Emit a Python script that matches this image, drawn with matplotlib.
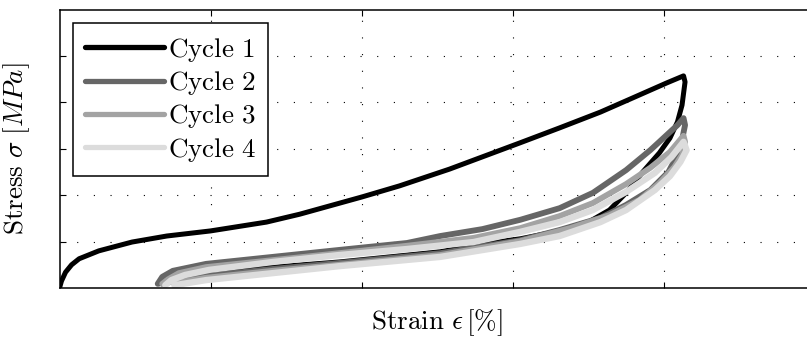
import matplotlib
matplotlib.use("Agg")
import matplotlib.pyplot as plt

plt.rcParams["mathtext.fontset"] = "cm"
plt.rcParams["font.family"] = ["DejaVu Serif"]

# strain [%] / stress [MPa]
c1_strain = [0.0, 0.013, 0.04, 0.08, 0.13, 0.26, 0.48, 0.71, 1.00, 1.37, 1.59, 2.00, 2.25, 2.58,
             3.05, 3.31, 3.58, 3.79, 4.02, 4.13,
             4.14, 4.12, 4.09, 4.04, 3.97, 3.86, 3.75, 3.64, 3.49, 3.31, 3.05, 2.80, 2.52,
             1.85, 1.41, 0.97, 0.75, 0.66]
c1_stress = [0.0, 0.15, 0.34, 0.50, 0.63, 0.80, 0.99, 1.12, 1.23, 1.42, 1.59, 1.96, 2.20, 2.56,
             3.13, 3.45, 3.79, 4.09, 4.42, 4.57,
             4.44, 3.94, 3.58, 3.23, 2.91, 2.50, 2.05, 1.68, 1.40, 1.23, 1.06, 0.95, 0.78,
             0.56, 0.45, 0.32, 0.22, 0.09]

c2_strain = [0.65, 0.68, 0.75, 0.97, 1.41, 1.85, 2.30, 2.52, 2.80, 3.05, 3.31, 3.53, 3.75,
             3.91, 4.02, 4.09, 4.13,
             4.14, 4.12, 4.09, 4.03, 3.91, 3.75, 3.58, 3.31, 3.05, 2.52, 1.85, 1.41, 0.97,
             0.79, 0.68]
c2_stress = [0.09, 0.24, 0.37, 0.52, 0.67, 0.82, 0.97, 1.12, 1.27, 1.47, 1.72, 2.05, 2.54,
             2.97, 3.30, 3.51, 3.66,
             3.51, 3.19, 2.87, 2.50, 2.11, 1.79, 1.51, 1.25, 1.03, 0.75, 0.54, 0.41, 0.26,
             0.17, 0.09]

c3_strain = [0.68, 0.72, 0.79, 0.97, 1.41, 1.85, 2.30, 2.74, 3.05, 3.31, 3.53, 3.75, 3.91,
             4.04, 4.13,
             4.14, 4.12, 4.07, 3.97, 3.84, 3.64, 3.38, 3.05, 2.52, 1.85, 1.41, 0.97, 0.76]
c3_stress = [0.09, 0.19, 0.32, 0.45, 0.60, 0.75, 0.91, 1.08, 1.29, 1.55, 1.83, 2.24, 2.59,
             2.93, 3.28,
             3.15, 2.87, 2.61, 2.26, 1.90, 1.57, 1.29, 1.01, 0.71, 0.50, 0.37, 0.22, 0.11]

c4_strain = [0.70, 0.74, 0.83, 0.99, 1.41, 1.85, 2.30, 2.74, 3.05, 3.31, 3.53, 3.75, 3.94,
             4.05, 4.13,
             4.15, 4.11, 4.04, 3.94, 3.75, 3.58, 3.31, 3.05, 2.52, 1.85, 1.41, 0.97, 0.76]
c4_stress = [0.06, 0.17, 0.28, 0.39, 0.56, 0.71, 0.84, 0.99, 1.21, 1.42, 1.68, 2.07, 2.48,
             2.82, 3.15,
             2.97, 2.72, 2.41, 2.11, 1.68, 1.42, 1.12, 0.95, 0.67, 0.47, 0.32, 0.17, 0.06]

labels = ["Cycle 1", "Cycle 2", "Cycle 3", "Cycle 4"]
colors = ["#000000", "#666666", "#a3a3a3", "#dcdcdc"]
widths = [3.6, 4.2, 4.2, 4.6]

W, H = 807, 338
fig = plt.figure(figsize=(W / 100, H / 100), dpi=100)
ax = fig.add_axes([59.5 / W, (H - 288) / H, (815 - 59.5) / W, (288 - 9.5) / H])

curves = [(c1_strain, c1_stress), (c2_strain, c2_stress),
          (c3_strain, c3_stress), (c4_strain, c4_stress)]
for (x, y), lab, col, lw in zip(curves, labels, colors, widths):
    ax.plot(x, y, color=col, lw=lw, label=r"$\mathrm{%s}$" % lab.replace(" ", r"\ "),
            solid_joinstyle="round", solid_capstyle="round")

ax.set_xlim(0, 5)
ax.set_ylim(0, 6)
ax.set_xticks([1, 2, 3, 4])
ax.set_yticks([1, 2, 3, 4, 5])
ax.set_xticklabels([])
ax.set_yticklabels([])
ax.tick_params(direction="in", length=4, width=0.8, top=True, right=True)
ax.grid(True, color="black", lw=0.8, linestyle=(0, (1, 14)))
for s in ax.spines.values():
    s.set_linewidth(1.1)

ax.set_xlabel(r"$\mathrm{Strain}\ \epsilon\,[\%]$", fontsize=19.5)
ax.xaxis.set_label_coords(0.5, -0.07)
ax.set_ylabel(r"$\mathrm{Stress}\ \sigma\ [MPa]$", fontsize=19.5)
ax.yaxis.set_label_coords(-0.036, 0.5)

leg = ax.legend(loc="upper left", bbox_to_anchor=(0.018, 0.95), borderaxespad=0,
                fancybox=False, framealpha=1, edgecolor="black", fontsize=19.5,
                handlelength=2.9, handletextpad=0.15, labelspacing=0.2,
                borderpad=0.45)
leg.get_frame().set_linewidth(1.1)
for line in leg.get_lines():
    line.set_linewidth(3.8)

fig.savefig("out.png", dpi=100)
